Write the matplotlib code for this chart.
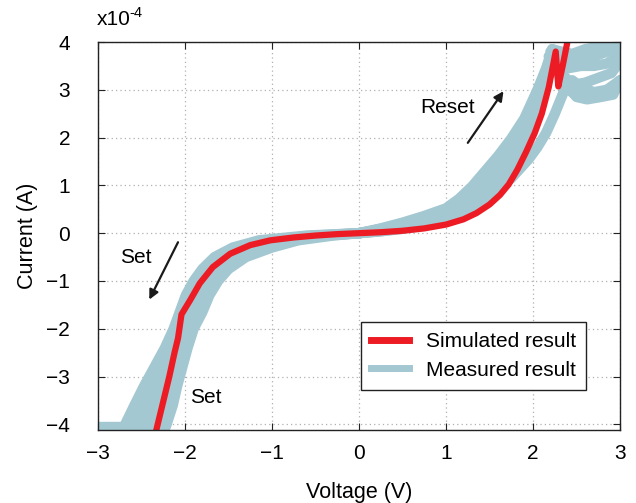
import matplotlib
matplotlib.use("Agg")
import matplotlib.pyplot as plt
from matplotlib.lines import Line2D

plt.rcParams['font.family'] = ['Liberation Sans', 'DejaVu Sans']

ROJO = '#ed1c24'
AZUL = '#a3c8d2'

# Corriente en unidades de 1e-4 A
# Simulacion (un barrido completo)
v_sim = [-2.34, -2.26, -2.18, -2.12, -2.08, -2.06, -2.04, -1.94, -1.83, -1.68, -1.48, -1.25, -1.02,
         -0.75, -0.5, -0.25, 0.0, 0.25, 0.5, 0.75, 1.0, 1.2, 1.35, 1.5, 1.62, 1.72, 1.82, 1.92,
         2.02, 2.1, 2.18, 2.26, 2.29, 2.34, 2.39]
i_sim = [-4.2, -3.6, -3.0, -2.5, -2.2, -1.95, -1.7, -1.4, -1.05, -0.71, -0.43, -0.25, -0.15,
         -0.09, -0.05, -0.02, 0.0, 0.02, 0.05, 0.1, 0.18, 0.29, 0.42, 0.6, 0.8, 1.02, 1.33, 1.7,
         2.1, 2.5, 3.05, 3.8, 3.07, 3.5, 3.96]

# Medidas: subida positiva (reset), misma rejilla de voltaje para cada ciclo
v_sube = [0.0, 0.25, 0.5, 0.75, 1.0, 1.15, 1.3, 1.45, 1.6, 1.75, 1.9, 2.05, 2.15, 2.22]
i_sube_1 = [0.0, 0.10, 0.22, 0.36, 0.52, 0.72, 0.98, 1.30, 1.62, 1.98, 2.40, 3.00, 3.45, 3.85]
i_sube_2 = [0.0, 0.09, 0.20, 0.33, 0.48, 0.66, 0.90, 1.20, 1.51, 1.89, 2.32, 2.94, 3.40, 3.79]
i_sube_3 = [0.0, 0.08, 0.18, 0.29, 0.44, 0.61, 0.83, 1.10, 1.41, 1.79, 2.25, 2.87, 3.35, 3.73]
i_sube_4 = [0.0, 0.07, 0.16, 0.26, 0.40, 0.55, 0.75, 1.00, 1.30, 1.70, 2.18, 2.81, 3.30, 3.68]
i_sube_5 = [0.0, 0.06, 0.13, 0.23, 0.36, 0.49, 0.67, 0.90, 1.19, 1.61, 2.10, 2.75, 3.25, 3.62]
i_sube_6 = [0.0, 0.05, 0.11, 0.19, 0.32, 0.44, 0.60, 0.80, 1.09, 1.51, 2.03, 2.68, 3.20, 3.56]
i_sube_7 = [0.0, 0.04, 0.09, 0.16, 0.28, 0.38, 0.52, 0.70, 0.98, 1.42, 1.95, 2.62, 3.15, 3.50]

# Zona de reset cerca de 3 V
v_rst_1 = [2.22, 2.32, 2.45, 2.6, 2.75, 2.9, 3.0]
i_rst_1 = [3.85, 3.8, 3.75, 3.85, 3.9, 3.95, 4.0]
v_rst_2 = [2.2, 2.3, 2.42, 2.55, 2.7, 2.85, 3.0]
i_rst_2 = [3.8, 3.65, 3.55, 3.6, 3.7, 3.8, 3.9]
v_rst_3 = [2.18, 2.28, 2.4, 2.55, 2.7, 2.85, 2.97]
i_rst_3 = [3.7, 3.55, 3.45, 3.5, 3.5, 3.55, 3.7]
v_rst_4 = [2.25, 2.35, 2.45, 2.6, 2.75, 2.9, 3.0]
i_rst_4 = [3.6, 3.3, 3.1, 3.15, 3.25, 3.35, 3.6]
v_rst_5 = [2.3, 2.4, 2.5, 2.65, 2.8, 2.95]
i_rst_5 = [3.3, 3.0, 2.9, 2.85, 2.95, 3.1]
v_rst_6 = [2.4, 2.5, 2.62, 2.78, 2.92, 3.0]
i_rst_6 = [3.05, 2.85, 2.8, 2.85, 2.9, 3.2]

# Regreso de 3 V a 0
v_baja = [3.0, 2.85, 2.7, 2.55, 2.45, 2.35, 2.25, 2.15, 2.05, 1.95, 1.85, 1.75, 1.6, 1.4, 1.2,
          1.0, 0.75, 0.5, 0.25, 0.0]
i_baja = [3.2, 3.0, 2.95, 3.05, 3.2, 2.95, 2.5, 2.1, 1.8, 1.55, 1.35, 1.15, 0.95, 0.7, 0.5,
          0.33, 0.2, 0.1, 0.04, 0.0]

# Medidas: lado negativo (set), misma rejilla de corriente para cada ciclo
i_set = [0.0, -0.05, -0.15, -0.3, -0.5, -0.75, -1.0, -1.3, -1.65, -2.0, -2.4, -2.8, -3.2, -3.6, -4.05]
v_set_1 = [0.0, -0.6, -1.15, -1.45, -1.66, -1.8, -1.9, -1.99, -2.06, -2.13, -2.23, -2.35, -2.47, -2.58, -2.7]
v_set_2 = [0.0, -0.5, -1.05, -1.38, -1.6, -1.75, -1.85, -1.94, -2.02, -2.09, -2.18, -2.28, -2.38, -2.48, -2.58]
v_set_3 = [0.0, -0.42, -0.95, -1.3, -1.52, -1.68, -1.79, -1.88, -1.96, -2.04, -2.12, -2.2, -2.3, -2.38, -2.46]
v_set_4 = [0.0, -0.36, -0.82, -1.15, -1.42, -1.6, -1.71, -1.8, -1.88, -1.97, -2.05, -2.12, -2.19, -2.26, -2.34]
v_set_5 = [0.0, -0.3, -0.7, -1.0, -1.3, -1.5, -1.62, -1.72, -1.8, -1.9, -1.97, -2.03, -2.09, -2.14, -2.22]

# Limite de corriente (compliance)
v_cc = [-3.0, -2.8, -2.6, -2.45, -2.3]
i_cc = [-4.05, -4.05, -4.05, -4.05, -4.05]

fig = plt.figure(figsize=(6.36, 5.03), dpi=100)
ax = fig.add_axes([0.154, 0.145, 0.821, 0.7715])

estilo = dict(color=AZUL, lw=7.5, solid_capstyle='round', solid_joinstyle='round')
for i_c in [i_sube_1, i_sube_2, i_sube_3, i_sube_4, i_sube_5, i_sube_6, i_sube_7]:
    ax.plot(v_sube, i_c, **estilo)
reset = [(v_rst_1, i_rst_1), (v_rst_2, i_rst_2), (v_rst_3, i_rst_3),
         (v_rst_4, i_rst_4), (v_rst_5, i_rst_5), (v_rst_6, i_rst_6)]
for v_c, i_c in reset:
    ax.plot(v_c, i_c, **estilo)
ax.plot(v_baja, i_baja, **estilo)
for v_c in [v_set_1, v_set_2, v_set_3, v_set_4, v_set_5]:
    ax.plot(v_c, i_set, **estilo)
ax.plot(v_cc, i_cc, **estilo)

ax.plot(v_sim, i_sim, color=ROJO, lw=4.5, solid_joinstyle='round')

ax.set_xlim(-3, 3)
ax.set_ylim(-4.12, 4)
ax.set_xticks(range(-3, 4))
ax.set_yticks(range(-4, 5))
ax.grid(True, color='#b0b0b0', linestyle=(0, (1, 2.5)), lw=0.9)
ax.tick_params(direction='in', length=5, top=True, right=True, labelsize=15, color='#222222')
ax.tick_params(axis='y', pad=20)
ax.tick_params(axis='x', pad=10)
for s in ax.spines.values():
    s.set_color('#222222')
    s.set_linewidth(1.0)

ax.set_xlabel('Voltage (V)', fontsize=15.5, labelpad=14)
ax.set_ylabel('Current (A)', fontsize=15.5, labelpad=6)
# factor de escala del eje y
fig.text(0.1525, 0.950, 'x10', fontsize=15, ha='left', va='baseline')
fig.text(0.2035, 0.966, '-4', fontsize=10.5, ha='left', va='baseline')

# Flechas y textos
flecha = dict(arrowstyle='-|>', color='#1a1a1a', lw=1.6, mutation_scale=14, shrinkA=0, shrinkB=0)
ax.annotate('', xy=(1.66, 2.97), xytext=(1.25, 1.89), arrowprops=flecha)
ax.annotate('', xy=(-2.41, -1.39), xytext=(-2.08, -0.19), arrowprops=flecha)
ax.text(1.02, 2.63, 'Reset', fontsize=15, ha='center', va='center')
ax.text(-2.56, -0.5, 'Set', fontsize=15, ha='center', va='center')
ax.text(-1.76, -3.43, 'Set', fontsize=15, ha='center', va='center')

manejadores = [Line2D([], [], color=ROJO, lw=5), Line2D([], [], color=AZUL, lw=5)]
leg = ax.legend(manejadores, ['Simulated result', 'Measured result'], loc='lower right',
                bbox_to_anchor=(0.935, 0.103), borderaxespad=0, fontsize=15, fancybox=False,
                framealpha=1, edgecolor='#222222', handlelength=1.8, borderpad=0.5, labelspacing=0.45)
leg.get_frame().set_linewidth(1.0)

fig.savefig('out.png', dpi=100)
